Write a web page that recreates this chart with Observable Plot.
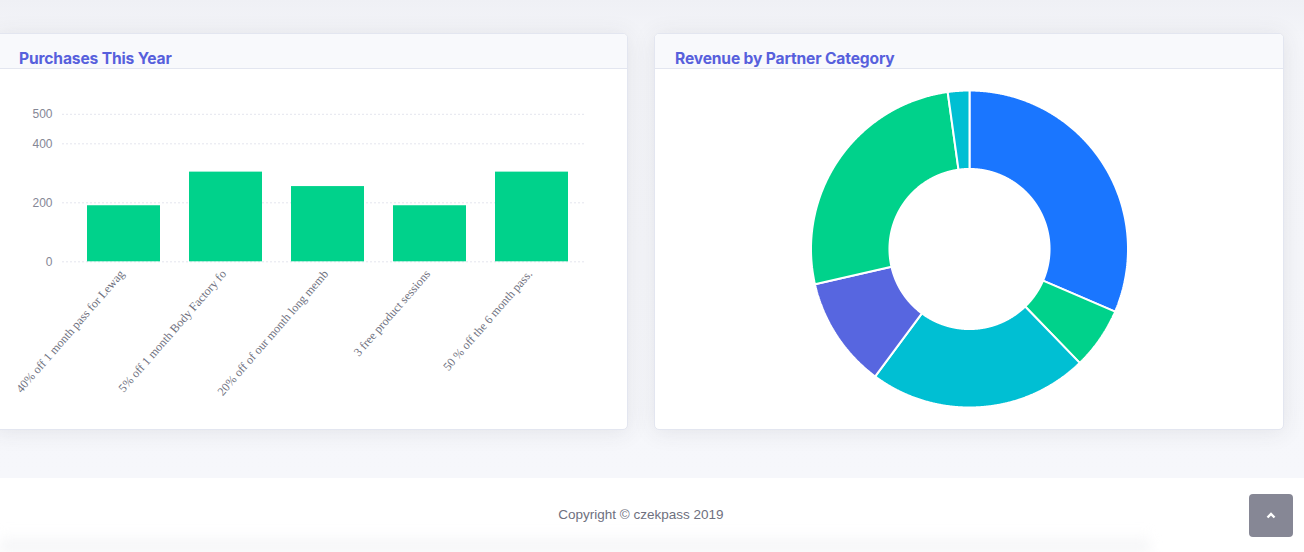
<!DOCTYPE html>
<html>
<head>
<meta charset="utf-8">
<script src="https://cdn.jsdelivr.net/npm/d3@7"></script>
<script src="https://cdn.jsdelivr.net/npm/@observablehq/plot@0.6"></script>
<style>
  html, body { margin: 0; padding: 0; }
  body { width: 1304px; height: 552px; overflow: hidden; position: relative;
         background: linear-gradient(#eff0f5 0px, #f4f5f9 40px, #f6f7fb 478px); font-family: "Liberation Sans", Arial, sans-serif; }
  .card { position: absolute; background: #fff; border: 1px solid #e3e6f0; border-radius: 5px;
          box-shadow: 0 2px 22px rgba(58,59,69,0.10); overflow: hidden; box-sizing: border-box; }
  .card-header { position: absolute; left: 0; top: 0; right: 0; height: 35px; background: #f8f9fc;
                 border-bottom: 1px solid #e3e6f0; box-sizing: border-box; }
  .card-title { position: absolute; top: 14.6px; font-family: Inter, "Open Sans", sans-serif; font-weight: 700;
                font-size: 15.6px; line-height: 20px; color: #5760dc; letter-spacing: -0.15px; }
  .chart { position: absolute; }
  .footer { position: absolute; left: 0; top: 478px; width: 1304px; height: 74px; background: #fff; }
  .footer-shadow { position: absolute; left: 0; top: 532px; width: 1150px; height: 20px;
                   background: linear-gradient(rgba(235,236,240,0), rgba(232,233,237,0.6)); filter: blur(6px); }
  .copyright { position: absolute; left: 0; width: 1282px; top: 507px; text-align: center;
               font-family: "Liberation Sans", Arial, sans-serif; font-size: 13.5px; color: #6e707e; }
  .scroll-top { position: absolute; left: 1249px; top: 494px; width: 44px; height: 43px; border-radius: 4px;
                background: #868795; }
  .scroll-top svg { position: absolute; left: 17px; top: 17px; }
</style>
</head>
<body>
<div class="card" style="left:-6px; top:33px; width:634px; height:397px;">
  <div class="card-header"><div class="card-title" style="left:24px;">Purchases This Year</div></div>
</div>
<div class="card" style="left:654px; top:33px; width:630px; height:397px;">
  <div class="card-header"><div class="card-title" style="left:20px;">Revenue by Partner Category</div></div>
</div>
<div id="bar" class="chart" style="left:0px; top:68px;"></div>
<div id="donut" class="chart" style="left:654px; top:68px;"></div>
<div class="footer"></div>
<div class="footer-shadow"></div>
<div class="copyright">Copyright © czekpass 2019</div>
<div class="scroll-top"><svg width="10" height="8" viewBox="0 0 10 8"><path d="M1.5 6.5 L5 3 L8.5 6.5" stroke="#fff" stroke-width="2.4" fill="none"/></svg></div>

<script>
// ---- data: bar chart ----
const offers = [
  "40% off 1 month pass for Lewag",
  "5% off 1 month Body Factory fo",
  "20% off of our month long memb",
  "3 free product sessions",
  "50 % off the 6 month pass."
];
const purchases = [190, 304, 255, 190, 304];
const yTicks = [0, 200, 400, 500];

// ---- data: donut chart ----
const partnerCategories = ["Category 1", "Category 2", "Category 3", "Category 4", "Category 5", "Category 6"];
const revenueShares = [31.5, 6.3, 22.4, 11.3, 26.4, 2.2];
const sliceColors = ["#1a76ff", "#00d28b", "#00bfd3", "#5766e0", "#00d28b", "#00bfd3"];

// ---- bar chart ----
const barData = offers.map((name, i) => ({name, value: purchases[i]}));
const bar = Plot.plot({
  width: 627, height: 361,
  marginLeft: 72, marginRight: 44, marginTop: 45.8, marginBottom: 167.7,
  style: {background: "transparent", overflow: "visible"},
  x: {domain: offers, paddingInner: 0.28, paddingOuter: 0.14, label: null},
  y: {domain: [0, 500], label: null},
  marks: [
    Plot.ruleY(yTicks, {stroke: "#e4e5ee", strokeDasharray: "2,2", insetLeft: -10, insetRight: -1}),
    Plot.barY(barData, {x: "name", y: "value", fill: "#00d28b"}),
    Plot.axisY(yTicks, {tickSize: 0, tickPadding: 20, fontSize: 12, color: "#858796",
      fontFamily: "Liberation Sans, Arial, sans-serif", label: null}),
    Plot.axisX({tickSize: 0, tickPadding: 10, tickRotate: -49, fontSize: 12, color: "#6e707e",
      fontFamily: "Liberation Serif, Times New Roman, serif", label: null, dx: -2})
  ]
});
document.getElementById("bar").appendChild(bar);

// ---- donut chart ----
const arcs = d3.pie().sort(null).value(d => d)(revenueShares);
const inner = 0.505, outer = 1;
const donutRows = [];
arcs.forEach((a, i) => {
  const n = Math.max(4, Math.ceil((a.endAngle - a.startAngle) / 0.005));
  const slice = partnerCategories[i];
  for (let k = 0; k <= n; k++) {
    const t = a.startAngle + (a.endAngle - a.startAngle) * k / n;
    donutRows.push({slice, x: outer * Math.sin(t), y: outer * Math.cos(t)});
  }
  for (let k = n; k >= 0; k--) {
    const t = a.startAngle + (a.endAngle - a.startAngle) * k / n;
    donutRows.push({slice, x: inner * Math.sin(t), y: inner * Math.cos(t)});
  }
});
const donut = Plot.plot({
  width: 630, height: 361,
  marginLeft: 156.5, marginRight: 156.5, marginTop: 22, marginBottom: 22,
  style: {background: "transparent", overflow: "visible"},
  x: {domain: [-1, 1], axis: null},
  y: {domain: [-1, 1], axis: null},
  color: {domain: partnerCategories, range: sliceColors},
  marks: [
    Plot.line(donutRows, {x: "x", y: "y", z: "slice", fill: "slice", stroke: "#fff", strokeWidth: 2,
      curve: "linear-closed", strokeLinejoin: "miter"})
  ]
});
document.getElementById("donut").appendChild(donut);
</script>
</body>
</html>
